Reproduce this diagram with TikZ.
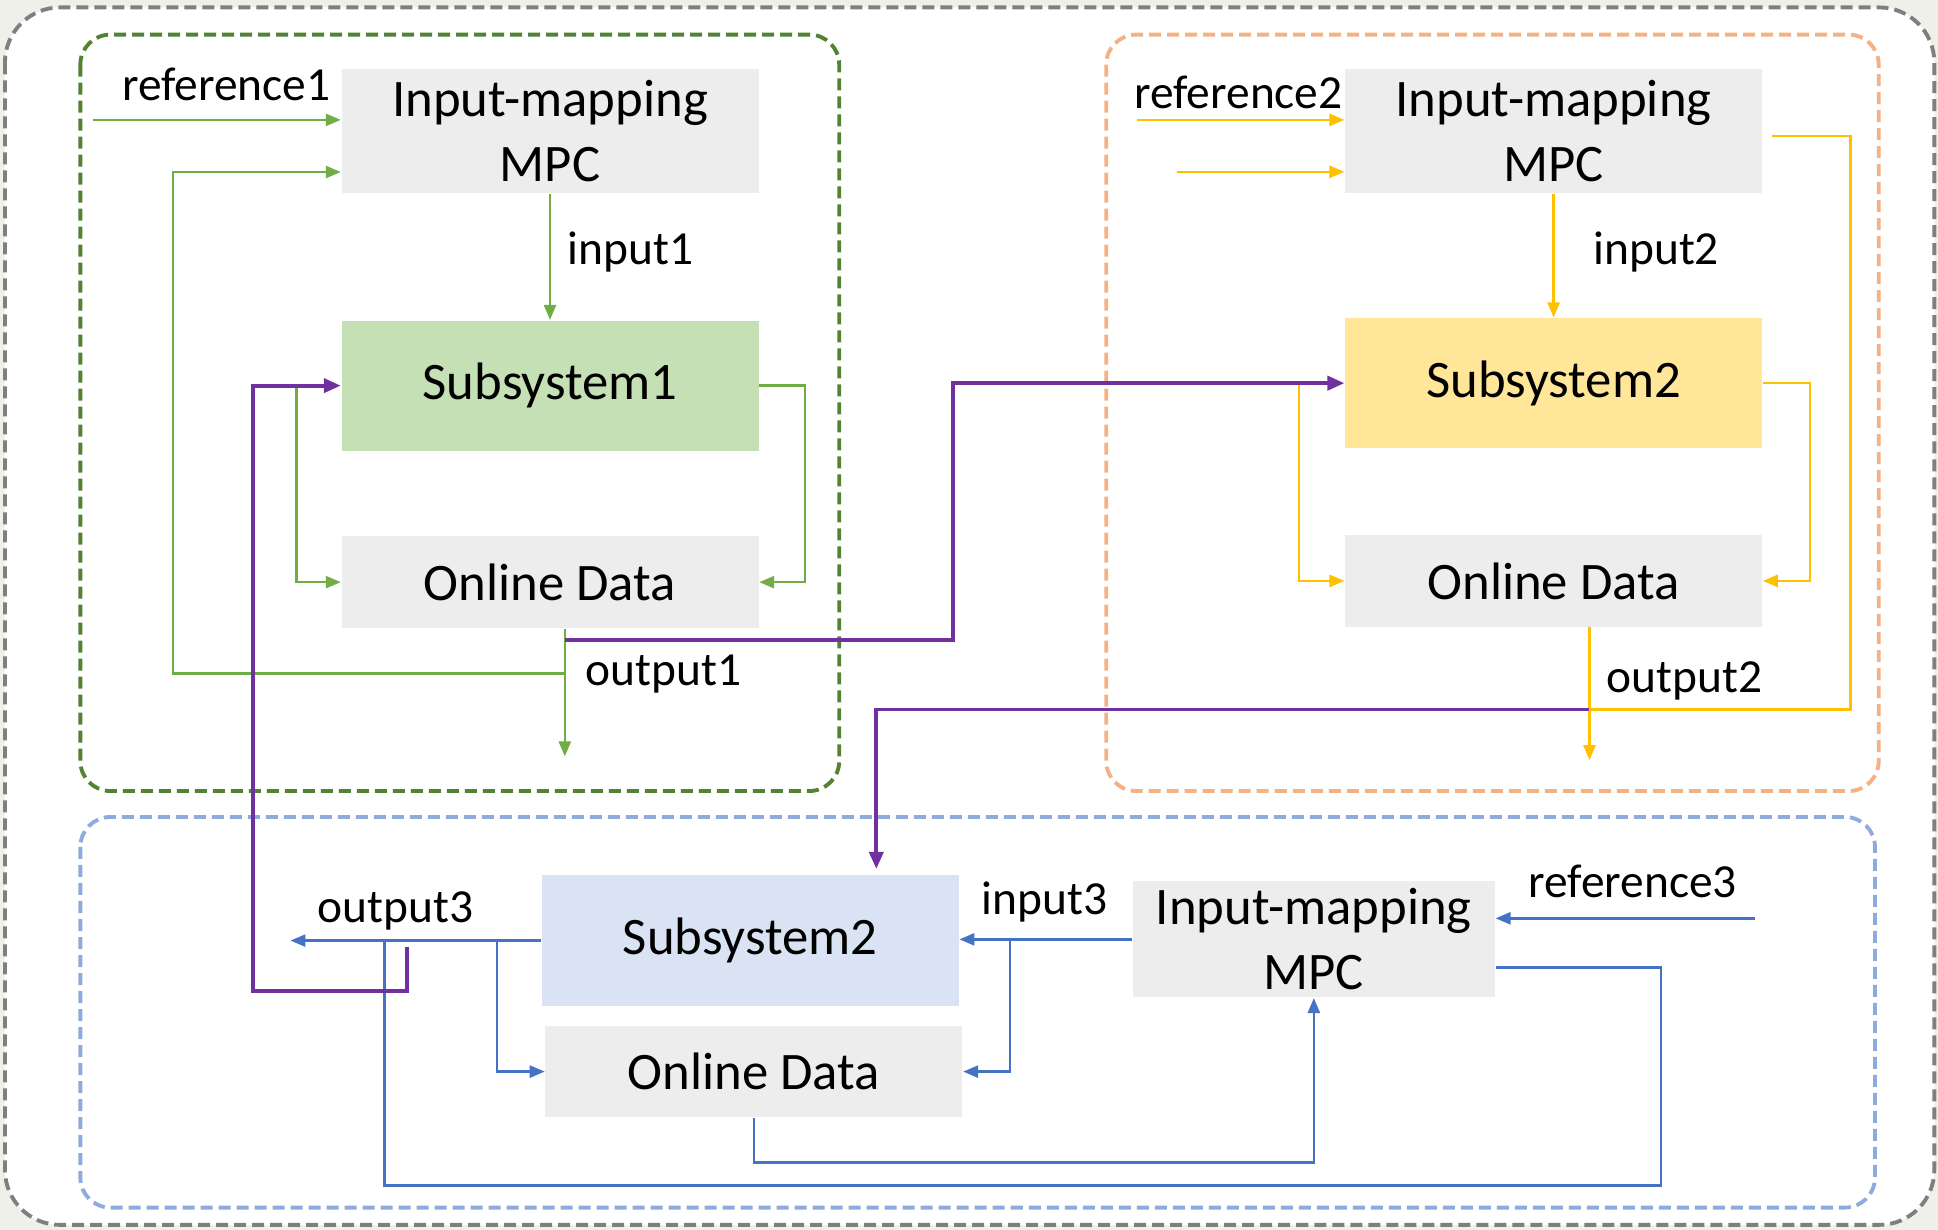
\documentclass[tikz,border=0pt]{standalone}
\usepackage{fontspec}
\setmainfont{Carlito}
\usetikzlibrary{arrows.meta}

\definecolor{gline}{HTML}{70AD47}
\definecolor{gbox}{HTML}{548235}
\definecolor{yline}{HTML}{FFC000}
\definecolor{obox}{HTML}{F4B183}
\definecolor{bline}{HTML}{4472C4}
\definecolor{bbox}{HTML}{8FAADC}
\definecolor{pline}{HTML}{7030A0}
\definecolor{frame}{HTML}{7F7F7F}
\definecolor{paper}{HTML}{F0F0EA}
\definecolor{blockgray}{HTML}{EDEDED}
\definecolor{blockgreen}{HTML}{C5E0B4}
\definecolor{blockyellow}{HTML}{FFE699}
\definecolor{blockblue}{HTML}{DAE3F3}

\begin{document}
\begin{tikzpicture}[x=0.01236cm,y=-0.01236cm]
\tikzstyle{block}=[rectangle, inner sep=0pt, minimum width=4.17cm, align=center, font=\fontsize{15}{18.5}\selectfont]
\tikzstyle{lbl}=[inner sep=0pt, font=\fontsize{13.5}{16}\selectfont]
\tikzstyle{dashbox}=[line width=1.1pt, dash pattern=on 1.2mm off 0.6mm, rounded corners=0.3cm]
\tikzstyle{con}=[line width=0.7pt, -{Triangle[length=1.5mm,width=1.2mm]}]
\tikzstyle{pcon}=[pline, line width=1.1pt, -{Triangle[length=1.7mm,width=1.4mm]}]
\useasboundingbox (0,0) rectangle (1568,995);
\fill[paper] (0,0) rectangle (1568,995);
\draw[frame, fill=white, line width=1.1pt, dash pattern=on 1.2mm off 0.6mm, rounded corners=0.55cm] (4,6) rectangle (1565,991);
\draw[dashbox, gbox] (65,28) rectangle (679,640);
\draw[dashbox, obox] (895,28) rectangle (1520,640);
\draw[dashbox, bbox] (65,661) rectangle (1517,977);

\node[block, fill=blockgray, minimum height=1.24cm] (mpc1) at (445,106) {Input-mapping\\MPC};
\node[block, fill=blockgreen, minimum height=1.30cm] (sub1) at (445,312) {Subsystem1};
\node[block, fill=blockgray, minimum height=0.915cm] (data1) at (445,471) {Online Data};
\node[block, fill=blockgray, minimum height=1.24cm] (mpc2) at (1257,106) {Input-mapping\\MPC};
\node[block, fill=blockyellow, minimum height=1.30cm] (sub2) at (1257,310) {Subsystem2};
\node[block, fill=blockgray, minimum height=0.915cm] (data2) at (1257,470) {Online Data};
\node[block, fill=blockblue, minimum height=1.31cm] (sub3) at (607,761) {Subsystem2};
\node[block, fill=blockgray, minimum height=0.915cm] (data3) at (610,867) {Online Data};
\node[block, fill=blockgray, minimum width=3.62cm, minimum height=1.16cm] (mpc3) at (1063,760) {Input-mapping\\MPC};

\node[lbl] (ref1) at (183,68) {reference1};
\node[lbl] (in1) at (510,204) {input1};
\node[lbl] (out1) at (537,545) {output1};
\node[lbl] (ref2) at (1002,75) {reference2};
\node[lbl] (in2) at (1340,204) {input2};
\node[lbl] (out2) at (1363,551) {output2};
\node[lbl] (out3) at (320,737) {output3};
\node[lbl] (in3) at (845,730) {input3};
\node[lbl] (ref3) at (1321,713) {reference3};

\coordinate (r1) at (75,97);
\coordinate (o1) at (457,612);
\coordinate (f1) at (140,545);
\coordinate (b1) at (240,313);
\coordinate (j1) at (457,518);
\coordinate (p3) at (329,766);
\coordinate (r2) at (920,97);
\coordinate (r2b) at (952,139);
\coordinate (b2) at (1051,310);
\coordinate (o2) at (1286,615);
\coordinate (m2r) at (1434,110);
\coordinate (j2) at (1286,574);
\coordinate (p2) at (709,703);
\coordinate (o3) at (235,761);
\coordinate (b3) at (402,761);
\coordinate (b3f) at (311,761);
\coordinate (b4) at (817,760);
\coordinate (r3) at (1420,743);

% first subsystem
\draw[con, gline] (r1) -- (r1 -| mpc1.west);
\draw[con, gline] (f1 -| o1) -- (f1) |- ([yshift=-0.41cm]mpc1.west);
\draw[con, gline] (mpc1) -- (sub1);
\draw[con, gline] (sub1.east) -- ++(37,0) |- (data1.east);
\draw[con, gline] (b1) |- (data1.west);
\draw[con, gline] (o1 |- data1.south) -- (o1);

% second subsystem
\draw[con, yline] (r2) -- (r2 -| mpc2.west);
\draw[con, yline] (r2b) -- (r2b -| mpc2.west);
\draw[con, yline] (mpc2) -- (sub2);
\draw[con, yline] (sub2.east) -- ++(38,0) |- (data2.east);
\draw[con, yline] (b2) |- (data2.west);
\draw[con, yline] (o2 |- data2.south) -- (o2);
\draw[yline, line width=0.7pt] (m2r) -- ++(63,0) |- (j2);

% third subsystem
\draw[con, bline] (sub3.west |- o3) -- (o3);
\draw[con, bline] (b3) |- (data3.west);
\draw[bline, line width=0.7pt] (b3f) -- ++(0,198) -- ++(1033,0) |- ([yshift=-0.28cm]mpc3.east);
\draw[con, bline] (mpc3.west) -- (mpc3.west -| sub3.east);
\draw[con, bline] (b4) |- (data3.east);
\draw[con, bline] (data3.south) -- ++(0,36) -| (mpc3.south);
\draw[con, bline] (r3) -- (r3 -| mpc3.east);

% coupling
\draw[pcon] (j1) -- ++(314,0) |- (sub2.west);
\draw[pcon] (j2) -| (p2);
\draw[pcon] (p3) -- ++(0,36) -- ++(-124,0) |- (sub1.west);

  \end{tikzpicture}
\end{document}
